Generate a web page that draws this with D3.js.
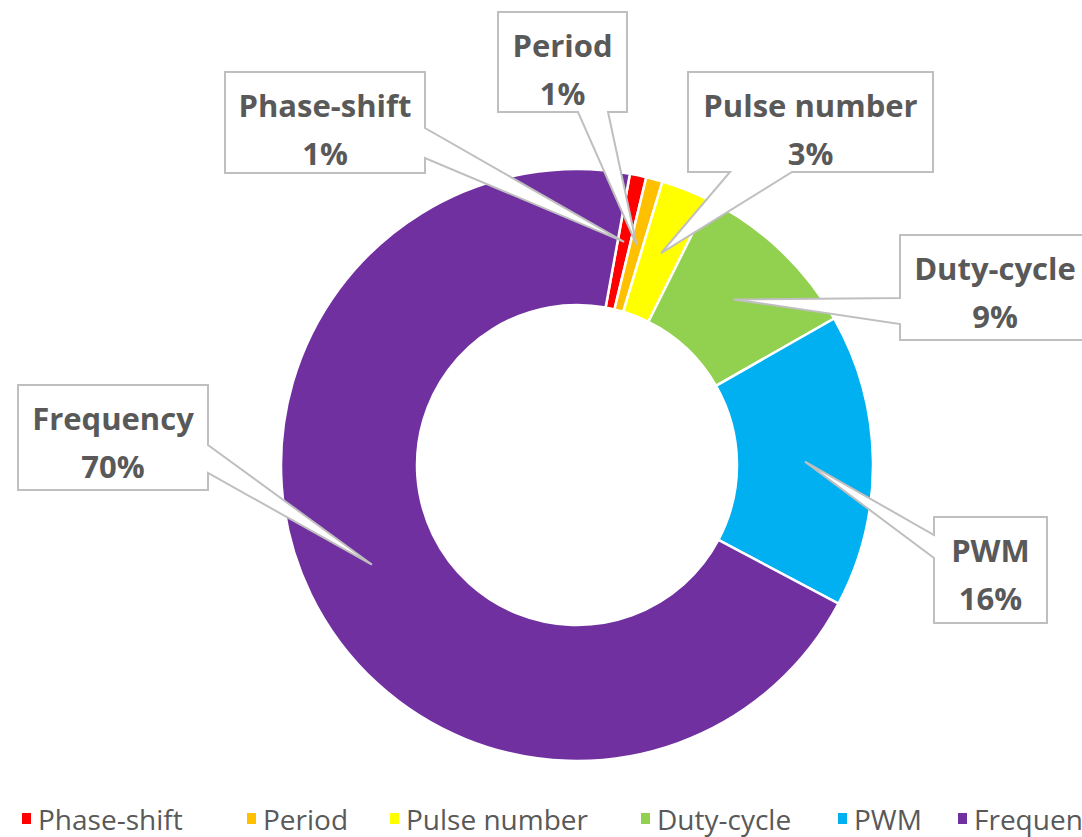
<!DOCTYPE html>
<html>
<head>
<meta charset="utf-8">
<script src="https://cdn.jsdelivr.net/npm/d3@7"></script>
<style>
  body { margin: 0; background: #fff; }
  svg { display: block; }
</style>
</head>
<body>
<svg id="chart" width="1082" height="837"></svg>
<script>
// data (percent of total)
const categories = ["Phase-shift", "Period", "Pulse number", "Duty-cycle", "PWM", "Frequency"];
const shares = [0.9, 0.9, 2.7, 9.4, 16.0, 70.1];
const colors = ["#FF0000", "#FFC000", "#FFFF00", "#92D050", "#00B0F0", "#7030A0"];

// callout boxes, placed by hand like the excel ones
const boxes = [
    { x: 225, y: 72,  w: 200, h: 101, side: "right",  a: 56, b: 86 },
    { x: 498, y: 12,  w: 129, h: 100, side: "bottom", a: 80, b: 110 },
    { x: 688, y: 72,  w: 245, h: 100, side: "bottom", a: 42, b: 104 },
    { x: 900, y: 235, w: 190, h: 105, side: "left",   a: 63, b: 89 },
    { x: 934, y: 517, w: 113, h: 106, side: "left",   a: 18, b: 41 },
    { x: 18,  y: 385, w: 190, h: 105, side: "right",  a: 60, b: 88 }
];
const legendX = [22, 247, 390, 641, 838, 958];

const cx = 577, cy = 465, rOuter = 296, rInner = 160;
const start = 10.3 * Math.PI / 180;

const svg = d3.select("#chart");
const g = svg.append("g").attr("transform", "translate(" + cx + "," + cy + ")");

const pie = d3.pie().sort(null).value(d => d)
    .startAngle(start).endAngle(start + 2 * Math.PI);
const arc = d3.arc().innerRadius(rInner).outerRadius(rOuter);
const arcs = pie(shares);

g.selectAll("path.slice")
    .data(arcs)
    .enter().append("path")
    .attr("class", "slice")
    .attr("d", arc)
    .attr("fill", (d, i) => colors[i])
    .attr("stroke", "#fff")
    .attr("stroke-width", 2.5);

// callout outline with a pointer going to the slice
function calloutPath(b, tip) {
    var x = b.x, y = b.y, w = b.w, h = b.h;
    var p = d3.path();
    p.moveTo(x, y);
    p.lineTo(x + w, y);
    if (b.side == "right") {
        p.lineTo(x + w, y + b.a);
        p.lineTo(tip[0], tip[1]);
        p.lineTo(x + w, y + b.b);
    }
    p.lineTo(x + w, y + h);
    if (b.side == "bottom") {
        p.lineTo(x + b.b, y + h);
        p.lineTo(tip[0], tip[1]);
        p.lineTo(x + b.a, y + h);
    }
    p.lineTo(x, y + h);
    if (b.side == "left") {
        p.lineTo(x, y + b.b);
        p.lineTo(tip[0], tip[1]);
        p.lineTo(x, y + b.a);
    }
    p.closePath();
    return p.toString();
}

const labels = svg.append("g").selectAll("g.label")
    .data(arcs)
    .enter().append("g")
    .attr("class", "label");

labels.append("path")
    .attr("d", (d, i) => {
        var c = arc.centroid(d);
        return calloutPath(boxes[i], [cx + c[0], cy + c[1]]);
    })
    .attr("fill", "#fff")
    .attr("stroke", "#BFBFBF")
    .attr("stroke-width", 2)
    .attr("stroke-linejoin", "miter");

const txt = labels.append("text")
    .attr("text-anchor", "middle")
    .attr("font-family", "'Open Sans', sans-serif")
    .attr("font-weight", "bold")
    .attr("font-size", 31)
    .attr("fill", "#595959");
txt.append("tspan")
    .attr("x", (d, i) => boxes[i].x + boxes[i].w / 2)
    .attr("y", (d, i) => boxes[i].y + 45)
    .text((d, i) => categories[i]);
txt.append("tspan")
    .attr("x", (d, i) => boxes[i].x + boxes[i].w / 2)
    .attr("y", (d, i) => boxes[i].y + 93)
    .text(d => Math.round(d.data) + "%");

// legend
const legend = svg.append("g").selectAll("g.leg")
    .data(categories)
    .enter().append("g")
    .attr("transform", (d, i) => "translate(" + legendX[i] + ",0)");
legend.append("rect")
    .attr("x", 0).attr("y", 813)
    .attr("width", 9).attr("height", 11)
    .attr("fill", (d, i) => colors[i]);
legend.append("text")
    .attr("x", 16).attr("y", 830)
    .attr("font-family", "'Open Sans', sans-serif")
    .attr("font-size", 28)
    .attr("fill", "#595959")
    .text(d => d);
</script>
</body>
</html>
